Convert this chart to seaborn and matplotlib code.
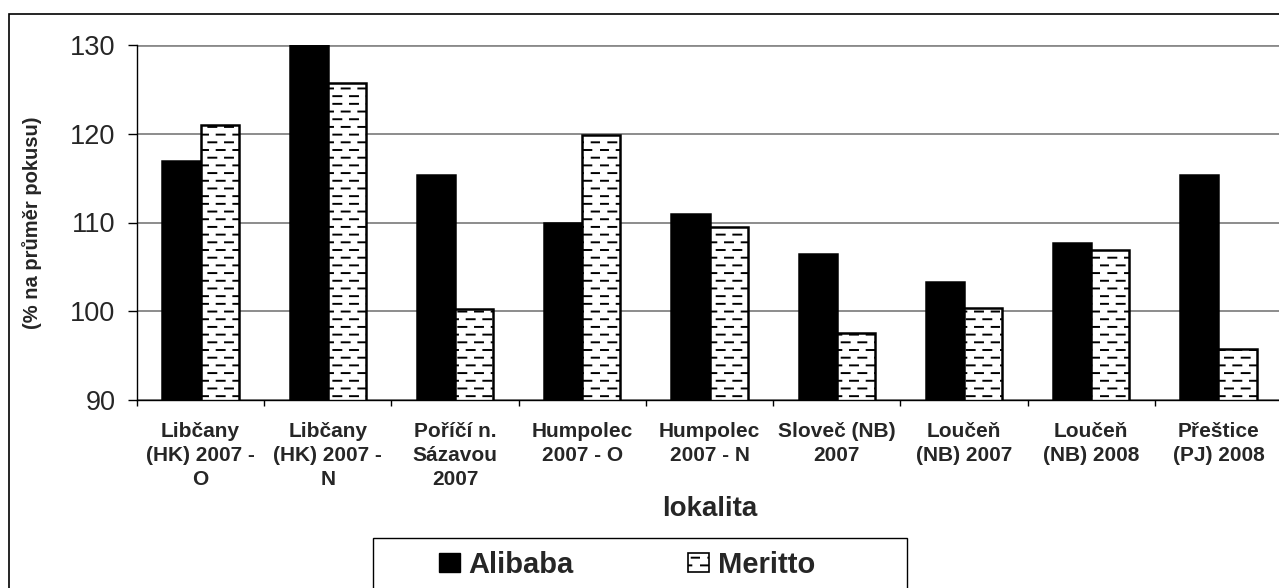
import numpy as np
import pandas as pd
import seaborn as sns
import matplotlib.pyplot as plt
from matplotlib import hatch as mhatch
from matplotlib.path import Path
from matplotlib.patches import Patch, Rectangle
from matplotlib.ticker import FixedLocator

# data (% of trial mean)
lokality = [
    "Libčany\n(HK) 2007 -\nO",
    "Libčany\n(HK) 2007 -\nN",
    "Poříčí n.\nSázavou\n2007",
    "Humpolec\n2007 - O",
    "Humpolec\n2007 - N",
    "Sloveč (NB)\n2007",
    "Loučeň\n(NB) 2007",
    "Loučeň\n(NB) 2008",
    "Přeštice\n(PJ) 2008",
]
odrudy = ["Alibaba", "Meritto"]
alibaba = [116.9, 130.0, 115.4, 110.0, 111.0, 106.5, 103.3, 107.7, 115.3]
meritto = [121.0, 125.7, 100.3, 119.9, 109.5, 97.5, 100.4, 106.9, 95.8]


# Excel-like dashed hatch: short dashes in staggered rows, used for '-'
class DashHatch(mhatch.HatchPatternBase):
    def __init__(self, hatch, density):
        self.rows = 13 if '-' in hatch else 0
        self.per_row = 6
        self.num_vertices = self.rows * self.per_row * 2

    def set_vertices_and_codes(self, vertices, codes):
        k = 0
        for r in range(self.rows):
            y = (r + 0.5) / self.rows
            off = 0.5 / self.per_row if r % 2 else 0.0
            for d in range(self.per_row):
                x0 = d / self.per_row + off
                vertices[k] = (x0, y)
                vertices[k + 1] = (x0 + 0.48 / self.per_row, y)
                codes[k] = Path.MOVETO
                codes[k + 1] = Path.LINETO
                k += 2


mhatch._hatch_types[0] = DashHatch

sns.set_style("white")
plt.rcParams['font.family'] = ['Liberation Sans', 'DejaVu Sans']
plt.rcParams['hatch.linewidth'] = 1.4

df = pd.DataFrame({
    'lokalita': lokality * 2,
    'odruda': [odrudy[0]] * len(lokality) + [odrudy[1]] * len(lokality),
    'hodnota': alibaba + meritto,
})

fig = plt.figure(figsize=(12.79, 5.88), dpi=100)
ax = fig.add_axes([137 / 1279, 1 - 400 / 588, (1282 - 137) / 1279, (400 - 45) / 588])

sns.barplot(data=df, x='lokalita', y='hodnota', hue='odruda', order=lokality,
            hue_order=odrudy, palette=['black', 'white'], saturation=1,
            width=0.6, edgecolor='black', linewidth=1.8, legend=False, ax=ax)

for bar in ax.containers[1]:
    bar.set_hatch('-')

ax.set_ylim(90, 130)
ax.set_xlim(-0.5, 8.5)
ax.set_yticks([90, 100, 110, 120, 130])
ax.yaxis.grid(True, color='#6e6e6e', linewidth=1.1)
ax.set_axisbelow(True)
# top gridline is drawn a bit heavier in the original
ax.get_ygridlines()[-1].set_linewidth(2.0)
ax.get_ygridlines()[-1].set_color('#8a8a8a')

for side in ['top', 'right']:
    ax.spines[side].set_visible(False)
for side in ['left', 'bottom']:
    ax.spines[side].set_color('black')
    ax.spines[side].set_linewidth(1.0)

ax.tick_params(axis='y', direction='out', length=6.5, width=1, color='black',
               labelsize=19.5, pad=9, left=True)
ax.tick_params(axis='x', which='major', length=0, pad=16, labelsize=15)
ax.xaxis.set_minor_locator(FixedLocator(np.arange(-0.5, 9, 1)))
ax.tick_params(axis='x', which='minor', direction='out', length=4.5, width=1,
               color='black', bottom=True)
for lbl in ax.get_xticklabels():
    lbl.set_fontweight('bold')
    lbl.set_linespacing(1.32)

ax.set_xlabel('lokalita', fontsize=20, fontweight='bold', labelpad=5)
ax.set_ylabel('(% na průměr pokusu)', fontsize=14.5, fontweight='bold')
ax.yaxis.set_label_coords(-0.083, 0.5)

# outer chart frame
fig.add_artist(Rectangle((9 / 1279, -0.02), 1.0, 1 - 14 / 588 + 0.02,
                         transform=fig.transFigure, fill=False,
                         edgecolor='black', linewidth=1.2))

# legend box at the bottom
fig.add_artist(Rectangle((373 / 1279, -0.02), (907 - 373) / 1279, 1 - 538 / 588 + 0.02,
                         transform=fig.transFigure, fill=False,
                         edgecolor='black', linewidth=1.0))
handles = [Patch(facecolor='black', edgecolor='black'),
           Patch(facecolor='white', edgecolor='black', hatch='-', linewidth=1.2)]
fig.legend(handles, odrudy, loc='center left',
           bbox_to_anchor=(439 / 1279, 1 - 565 / 588), ncol=2, frameon=False,
           prop={'size': 21, 'weight': 'bold'}, handlelength=0.72,
           handleheight=0.62, handletextpad=0.3, columnspacing=3.9,
           borderpad=0, borderaxespad=0)

fig.savefig('out.png', dpi=100)
